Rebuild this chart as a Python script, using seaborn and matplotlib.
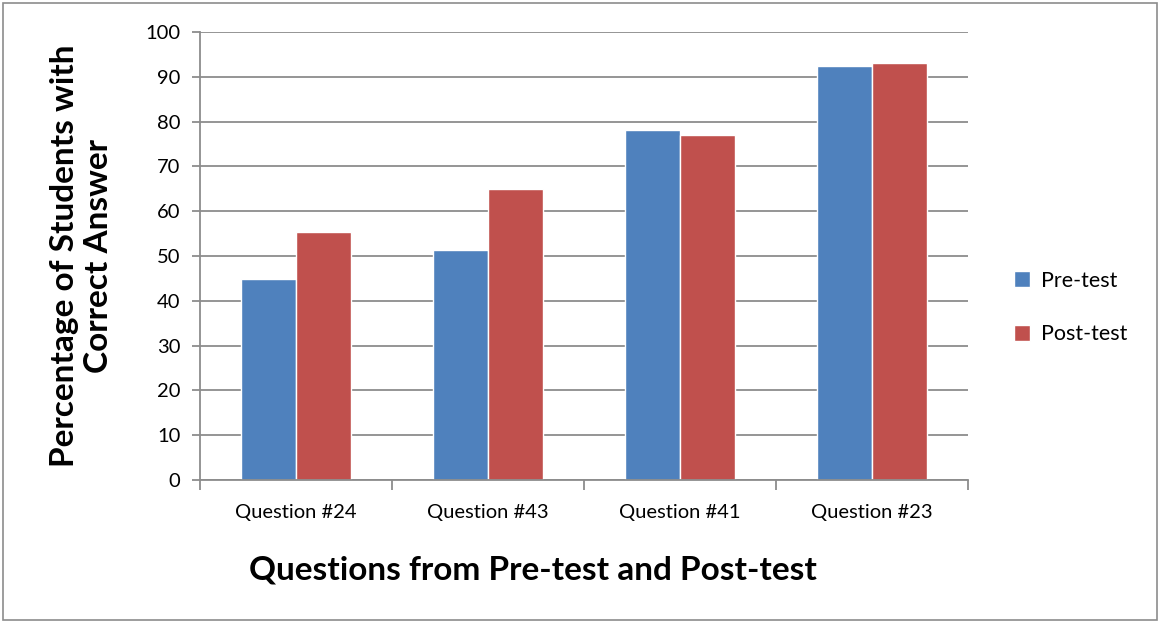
import pandas as pd
import matplotlib.pyplot as plt
import seaborn as sns
from matplotlib.ticker import FixedLocator, NullFormatter

# --------------------------------
# DATA
# --------------------------------

questions = ["Question #24", "Question #43", "Question #41", "Question #23"]
pre_test = [44.9, 51.3, 78.2, 92.3]
post_test = [55.4, 64.9, 77.0, 93.1]
series = ["Pre-test", "Post-test"]
colors = ["#4F81BD", "#C0504D"]

df = pd.DataFrame({
    "Question": questions * 2,
    "Test": [series[0]] * 4 + [series[1]] * 4,
    "Percent": pre_test + post_test
})

# --------------------------------
# PLOT
# --------------------------------

sns.set_style("white")
plt.rcParams["font.family"] = ["Lato", "DejaVu Sans"]
plt.rcParams["text.color"] = "black"
plt.rcParams["axes.labelcolor"] = "black"
plt.rcParams["xtick.labelcolor"] = "black"
plt.rcParams["ytick.labelcolor"] = "black"

fig = plt.figure(figsize=(11.6, 6.23), dpi=100)
ax = fig.add_axes([200 / 1160, 1 - 480 / 623, 768 / 1160, 448 / 623])

sns.barplot(
    data=df,
    x="Question",
    y="Percent",
    hue="Test",
    palette=colors,
    width=0.57,
    saturation=1,
    ax=ax
)

ax.set_ylim(0, 100)
ax.set_xlim(-0.5, 3.5)
ax.set_yticks(range(0, 101, 10))
ax.yaxis.grid(True, color="#8c8c8c", linewidth=1.3)
ax.set_axisbelow(True)

for side in ["top", "right"]:
    ax.spines[side].set_visible(False)
ax.spines["left"].set_color("#8c8c8c")
ax.spines["bottom"].set_color("#8c8c8c")
ax.spines["left"].set_linewidth(1.3)
ax.spines["bottom"].set_linewidth(1.3)

ax.tick_params(axis="y", left=True, length=6, color="#8c8c8c", width=1.3,
               labelsize=14.5, pad=8)
ax.tick_params(axis="x", bottom=False, labelsize=14.5, pad=14)
ax.xaxis.set_minor_locator(FixedLocator([-0.5, 0.5, 1.5, 2.5, 3.5]))
ax.xaxis.set_minor_formatter(NullFormatter())
ax.tick_params(axis="x", which="minor", bottom=True, length=7,
               color="#8c8c8c", width=1.3)

ax.set_xlabel("Questions from Pre-test and Post-test",
              fontsize=24, fontweight="bold")
ax.xaxis.set_label_coords(0.433, -0.168)
ax.set_ylabel("Percentage of Students with\nCorrect Answer",
              fontsize=24, fontweight="bold")
ax.yaxis.set_label_coords(-0.113, 0.5)

ax.legend(
    loc="center left",
    bbox_to_anchor=(1.035, 0.385),
    frameon=False,
    fontsize=15.5,
    handlelength=0.75,
    handleheight=0.75,
    handletextpad=0.5,
    labelspacing=1.55,
    title=None
)

fig.patches.append(plt.Rectangle((0.003, 0.005), 0.994, 0.99, transform=fig.transFigure,
                                 fill=False, edgecolor="#8c8c8c", linewidth=1.2))

plt.savefig("out.png", dpi=100)
